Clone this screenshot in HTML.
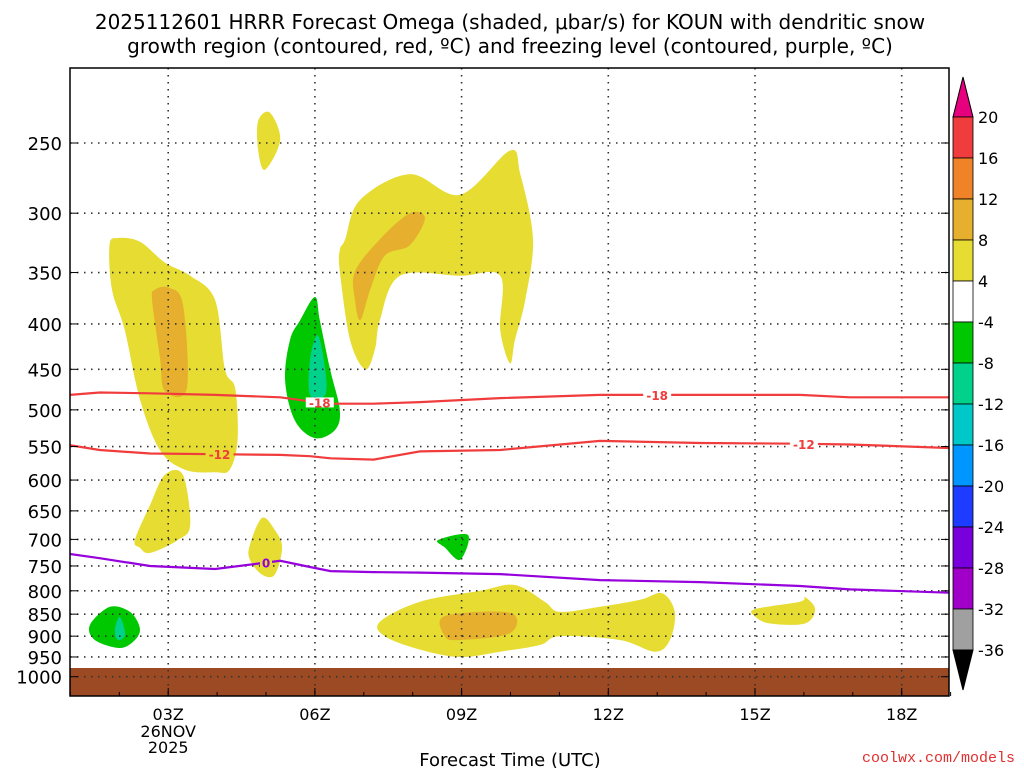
<!DOCTYPE html>
<html><head><meta charset="utf-8"><style>
html,body{margin:0;padding:0;background:#fff;width:1024px;height:768px;overflow:hidden}
svg{display:block;font-family:"DejaVu Sans","Liberation Sans",sans-serif}
</style></head><body>
<svg id="chart" width="1024" height="768" viewBox="0 0 1024 768" xmlns="http://www.w3.org/2000/svg">
<text x="510" y="29" font-size="20" text-anchor="middle">2025112601 HRRR Forecast Omega (shaded, μbar/s) for KOUN with dendritic snow</text>
<text x="510" y="53" font-size="20" text-anchor="middle">growth region (contoured, red, ºC) and freezing level (contoured, purple, ºC)</text>
<g id="plot"></g>
<text x="510" y="766" font-size="18" text-anchor="middle">Forecast Time (UTC)</text>
<text x="1015" y="762" font-size="15" fill="#e03030" text-anchor="end" font-family="Liberation Mono, monospace">coolwx.com/models</text>
<g id="cbar"></g>
</svg>
<script>
const pressureTicks=[250,300,350,400,450,500,550,600,650,700,750,800,850,900,950,1000];
const hourTicks=[3,6,9,12,15,18];
const hourLabels=["03Z","06Z","09Z","12Z","15Z","18Z"];
const cbLevels=[20,16,12,8,4,-4,-8,-12,-16,-20,-24,-28,-32,-36];
const cbColors=["#f03c3c","#f08228","#e6af2d","#e6dc32","#ffffff","#00c800","#00d28c","#00c8c8","#0096ff","#1e3cff","#7800dc","#a000c8","#a0a0a0"];
const yellowBlobs=[
 [[1.8,326],[1.97,320],[2.42,323],[2.93,341],[3.45,353],[3.96,376],[4.16,450],[4.37,473],[4.42,540],[4.26,584],[3.96,588],[3.34,584],[2.83,555],[2.42,486],[2.11,406],[1.85,366]],
 [[4.84,236],[5.08,231],[5.29,248],[4.98,268],[4.84,255]],
 [[2.32,701],[2.63,640],[2.93,592],[3.3,592],[3.45,674],[3.2,701],[2.63,725],[2.42,715]],
 [[4.67,710],[4.92,662],[5.18,683],[5.33,715],[5.18,767],[4.92,767],[4.67,738]],
 [[6.51,330],[6.62,321],[6.92,290],[7.94,271],[8.97,286],[9.99,255],[10.2,271],[10.46,321],[10.3,376],[10.09,417],[9.99,443],[9.79,406],[9.79,353],[8.97,353],[7.74,353],[7.33,396],[7.23,427],[7.03,450],[6.72,417],[6.51,349]],
 [[7.33,867],[8.15,823],[9.38,800],[10.09,788],[10.7,823],[11.01,845],[11.83,834],[12.65,819],[13.1,805],[13.36,845],[13.26,909],[12.95,937],[12.24,909],[11.01,900],[10.6,921],[9.79,937],[8.97,950],[8.15,932],[7.43,900]],
 [[15,839],[15.92,823],[16.02,813],[16.23,839],[16.02,871],[15.31,871],[15,855]]
];
const orangeBlobs=[
 [[2.73,366],[3,364],[3.3,380],[3.38,473],[2.93,476],[2.83,436],[2.67,376]],
 [[6.82,349],[7.33,321],[7.94,300],[8.25,304],[7.94,326],[7.43,335],[7.13,366],[6.93,396],[6.82,376]],
 [[8.66,854],[9.99,847],[9.99,893],[8.97,909],[8.66,900]]
];
const greenBlobs=[
 [[5.7,396],[6,373],[6.1,396],[6.31,450],[6.51,500],[6.41,527],[6,538],[5.59,514],[5.39,463],[5.49,417]],
 [[8.52,701],[9.13,692],[8.97,738],[8.66,715]],
 [[1.4,874],[1.81,834],[2.22,845],[2.42,881],[2.32,909],[2.01,928],[1.5,909]]
];
const tealBlobs=[
 [[5.9,439],[6.06,412],[6.21,450],[6.21,481],[5.9,481]],
 [[1.91,886],[2.01,856],[2.12,896],[1.97,909]]
];
const contourHours=[0.99,1.6,2.63,3.96,5.29,5.9,6.32,7.2,8.15,9.79,11.83,13.88,15.92,16.94,18.98];
const iso18=[481,478,479,481,484,489,492,492,490,485,481,481,481,484,484];
const iso12=[548,555,560,561,562,564,567,569,557,555,542,545,546,547,552];
const iso0=[727,735,750,756,740,752,760,762,763,766,778,782,790,797,804];
const NS="http://www.w3.org/2000/svg";
const X0=21.5,XS=48.9,Y0=143,YS=385;
const L=70,R=949,T=68,B=696;
function xs(h){return X0+XS*h;}
function ys(p){return Y0+YS*Math.log(p/250);}
function mk(tag,attrs,parent){const e=document.createElementNS(NS,tag);for(const k in attrs)e.setAttribute(k,attrs[k]);parent.appendChild(e);return e;}
const plot=document.getElementById('plot');
const clip=mk('clipPath',{id:'pc'},mk('defs',{},plot));
mk('rect',{x:L,y:T,width:R-L,height:B-T},clip);
const g=mk('g',{'clip-path':'url(#pc)'},plot);
function smoothClosed(P){
 const n=P.length;let d='M'+P[0][0].toFixed(1)+','+P[0][1].toFixed(1);
 for(let i=0;i<n;i++){
  const p0=P[(i-1+n)%n],p1=P[i],p2=P[(i+1)%n],p3=P[(i+2)%n];
  const c1x=p1[0]+(p2[0]-p0[0])/6,c1y=p1[1]+(p2[1]-p0[1])/6;
  const c2x=p2[0]-(p3[0]-p1[0])/6,c2y=p2[1]-(p3[1]-p1[1])/6;
  d+=` C${c1x.toFixed(1)},${c1y.toFixed(1)} ${c2x.toFixed(1)},${c2y.toFixed(1)} ${p2[0].toFixed(1)},${p2[1].toFixed(1)}`;
 }
 return d+' Z';
}
function blobs(list,color,name){list.forEach((b,i)=>{
 const pts=b.map(v=>[xs(v[0]),ys(v[1])]);
 const el=mk('path',{d:smoothClosed(pts),fill:color,stroke:'none'},g);
 
 
});}
blobs(yellowBlobs,'#e6dc32','omega-4-8');
blobs(orangeBlobs,'#e6af2d','omega-8-12');
blobs(greenBlobs,'#00c800','omega-neg4-neg8');
blobs(tealBlobs,'#00d28c','omega-neg8-neg12');
const gr=mk('rect',{x:L,y:668,width:R-L,height:B-668,fill:'#9c4a24'},g);


pressureTicks.forEach(p=>{
 const y=ys(p);
 const ln=mk('line',{x1:L,x2:R,y1:y,y2:y,stroke:'#333','stroke-width':1.6,'stroke-dasharray':'1.5 5.5'},g);
 
 
 const t=mk('text',{x:62,y:y+7,'font-size':18,'text-anchor':'end'},plot);
 t.textContent=p;
 
 
 mk('line',{x1:L,x2:L+8,y1:y,y2:y,stroke:'#000'},plot);
 mk('line',{x1:R-8,x2:R,y1:y,y2:y,stroke:'#000'},plot);
});
hourTicks.forEach((h,i)=>{
 const x=xs(h);
 const ln=mk('line',{x1:x,x2:x,y1:T,y2:B,stroke:'#333','stroke-width':1.6,'stroke-dasharray':'1.5 5.5'},g);
 
 
 const t=mk('text',{x:x,y:720,'font-size':16,'text-anchor':'middle'},plot);
 t.textContent=hourLabels[i];
 
 
 mk('line',{x1:x,x2:x,y1:B-8,y2:B,stroke:'#000'},plot);
});
for(let h=1;h<=19;h++){const x=xs(h);mk('line',{x1:x,x2:x,y1:B-4,y2:B,stroke:'#000'},plot);}
[['26NOV',737],['2025',753]].forEach(a=>{const t=mk('text',{x:xs(3),y:a[1],'font-size':16,'text-anchor':'middle'},plot);t.textContent=a[0];
 
 });
function line(vals,color,name){
 const d='M'+contourHours.map((h,i)=>xs(h).toFixed(1)+','+ys(vals[i]).toFixed(1)).join(' L');
 const el=mk('path',{d:d,fill:'none',stroke:color,'stroke-width':2.2},g);
 
 
}
line(iso18,'#f03c3c','contour-minus18');
line(iso12,'#f03c3c','contour-minus12');
line(iso0,'#9600dc','freezing-level');
function interp(vals,h){for(let i=0;i<contourHours.length-1;i++){if(h>=contourHours[i]&&h<=contourHours[i+1]){const f=(h-contourHours[i])/(contourHours[i+1]-contourHours[i]);return vals[i]+f*(vals[i+1]-vals[i]);}}return vals[0];}
function lab(vals,h,txt,color,bg){const x=xs(h),y=ys(interp(vals,h));
 const w=txt.length*8+4;
 mk('rect',{x:x-w/2,y:y-5,width:w,height:10,fill:bg},g);
 const t=mk('text',{x:x,y:y+5,'font-size':12,'font-weight':'bold','text-anchor':'middle',fill:color},g);t.textContent=txt;
 
 }
lab(iso18,6.1,'-18','#f03c3c','#fff');lab(iso18,13.0,'-18','#f03c3c','#fff');
lab(iso12,4.05,'-12','#f03c3c','#e6dc32');lab(iso12,16.0,'-12','#f03c3c','#fff');
lab(iso0,5.0,'0','#9600dc','#e6dc32');
const fr=mk('rect',{x:L,y:T,width:R-L,height:B-T,fill:'none',stroke:'#000','stroke-width':1.5},plot);


const cb=document.getElementById('cbar');
const CBX=953,CBW=20,cbTop=117,cbStep=41;
function cy(i){return cbTop+cbStep*i;}
const tri1=mk('polygon',{points:`${CBX},${cy(0)} ${CBX+CBW},${cy(0)} ${CBX+CBW/2},${cy(0)-40}`,fill:'#e6007e',stroke:'#000'},cb);


cbColors.forEach((c,i)=>{const r=mk('rect',{x:CBX,y:cy(i),width:CBW,height:cbStep,fill:c,stroke:'#000','stroke-width':0.8},cb);
 
 });
const last=cy(cbColors.length);
const tri2=mk('polygon',{points:`${CBX},${last} ${CBX+CBW},${last} ${CBX+CBW/2},${last+40}`,fill:'#000',stroke:'#000'},cb);


cbLevels.forEach((v,i)=>{const t=mk('text',{x:978,y:cy(i)+6,'font-size':16},cb);t.textContent=v;
 
 });
</script>
</body></html>
